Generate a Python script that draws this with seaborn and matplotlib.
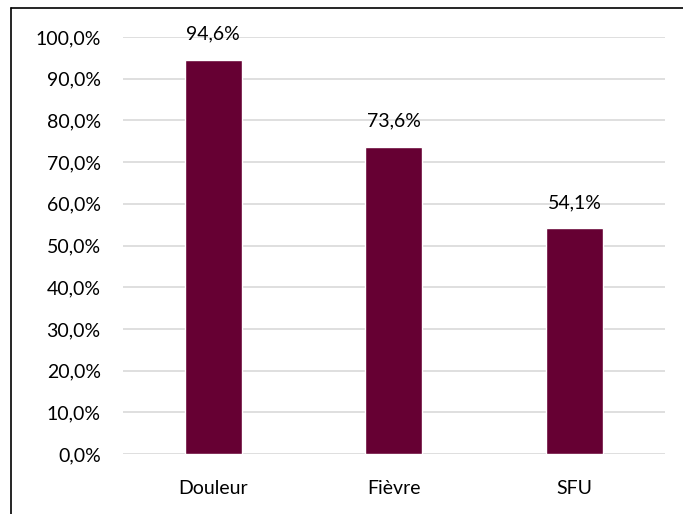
import matplotlib
matplotlib.use("Agg")
import matplotlib.pyplot as plt
import seaborn as sns
import pandas as pd
from matplotlib.lines import Line2D

categories = ["Douleur", "Fièvre", "SFU"]
values = [94.6, 73.6, 54.1]
yticks = [0, 10, 20, 30, 40, 50, 60, 70, 80, 90, 100]

sns.set_style("white")
plt.rcParams['font.family'] = ['Lato', 'DejaVu Sans']

df = pd.DataFrame({"cat": categories, "val": values})

fig = plt.figure(figsize=(6.83, 5.14), dpi=100)
ax = fig.add_axes([0.180, 0.1167, 0.7936, 0.8113])
sns.barplot(data=df, x="cat", y="val", color="#660033", width=0.315,
            saturation=1, ax=ax, zorder=3)

FS = 14
ax.set_ylim(0, 100)
ax.set_yticks(yticks)
ax.set_yticklabels([f"{v:.1f}%".replace(".", ",") for v in yticks], fontsize=FS, color="#000000")
ax.set_xticklabels(categories, fontsize=FS, color="#000000")
ax.set_xlabel("")
ax.set_ylabel("")
ax.grid(axis="y", color="#d9d9d9", linewidth=1.2, zorder=0)
for s in ax.spines.values():
    s.set_visible(False)
ax.tick_params(axis="y", length=0, pad=16)
ax.tick_params(axis="x", length=0, pad=19)

for p, v in zip(ax.patches, values):
    ax.text(p.get_x() + p.get_width() / 2, v + 6.2, f"{v:.1f}%".replace(".", ","),
            ha="center", va="center", fontsize=FS, color="#000000", clip_on=False)

x0 = 10.5 / 683
y0 = 1 - 7.5 / 514
fig.lines.append(Line2D([x0, 1.05], [y0, y0], transform=fig.transFigure, color="black", linewidth=1.2))
fig.lines.append(Line2D([x0, x0], [-0.05, y0], transform=fig.transFigure, color="black", linewidth=1.2))

fig.savefig("out.png", dpi=100)
